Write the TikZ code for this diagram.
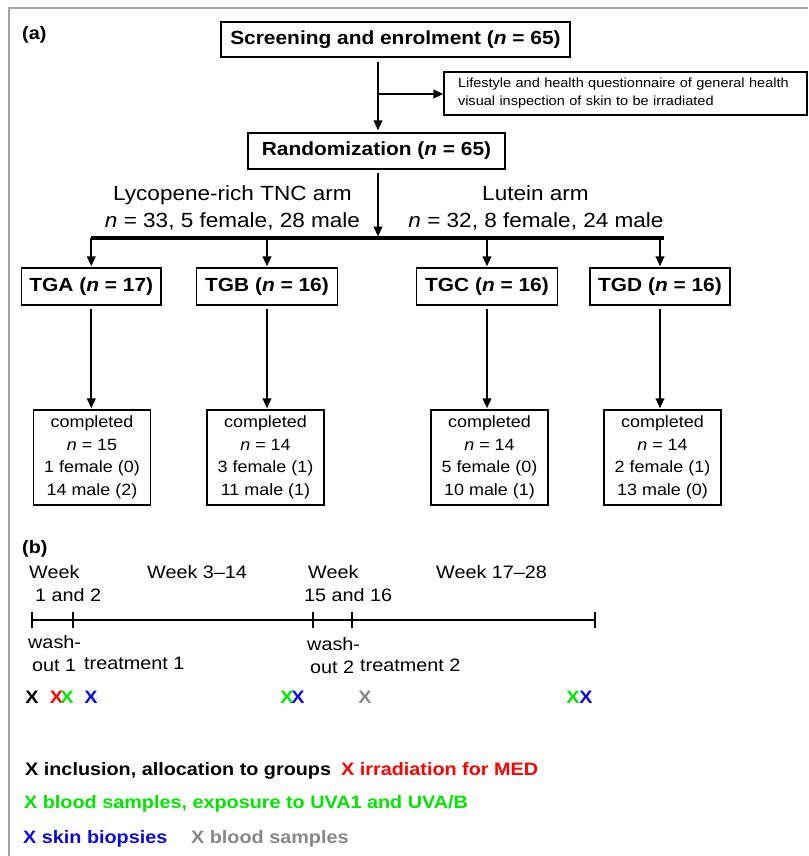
\documentclass[tikz,border=0pt]{standalone}
\usepackage{fontspec}
\setmainfont{Liberation Sans}[FakeStretch=1.1]
\usetikzlibrary{arrows.meta}
\definecolor{xred}{RGB}{255,0,0}
\definecolor{xgreen}{RGB}{0,230,0}
\definecolor{xblue}{RGB}{10,10,230}
\definecolor{xgray}{RGB}{135,135,135}
\definecolor{framegray}{RGB}{165,165,165}
\tikzset{
  bigbox/.style={draw, line width=1.3pt, inner sep=0pt, font=\fontsize{19}{23}\selectfont\bfseries},
  donebox/.style={draw, line width=1.3pt, inner sep=0pt, minimum width=117pt, minimum height=95pt, align=center, font=\fontsize{16.3}{22.5}\selectfont},
  arr/.style={line width=2.2pt, -{Triangle[length=10pt,width=8.5pt]}},
  armlbl/.style={inner sep=0pt, anchor=base, font=\fontsize{20.5}{25}\selectfont},
  tl/.style={inner sep=0pt, anchor=base west, font=\fontsize{18}{22}\selectfont},
  xm/.style={inner sep=0pt, anchor=base, font=\fontsize{18}{22}\selectfont\bfseries},
  leg/.style={inner sep=0pt, anchor=base west, font=\fontsize{18}{22}\selectfont\bfseries},
  panel/.style={inner sep=0pt, anchor=base west, font=\fontsize{18}{22}\selectfont\bfseries}
}
\begin{document}
\begin{tikzpicture}[x=1pt,y=-1pt]
\useasboundingbox (0,0) rectangle (808,856);
% frame
\draw[framegray, line width=2.5pt] (9,856) -- (9,8) -- (808,8);

% ---------- (a)
\node[panel] (pa) at (22,39.5) {(a)};
\node[bigbox, minimum width=349pt, minimum height=35pt] (scr) at (395.5,39.5) {Screening and enrolment (\textit{n} = 65)};
\node[draw, line width=1.3pt, inner xsep=14pt, inner ysep=0pt, text width=335pt, minimum height=43pt, align=left,
      font=\fontsize{13.2}{18}\selectfont] (q) at (625.5,93.5)
  {Lifestyle and health questionnaire of general health\\visual inspection of skin to be irradiated};
\node[bigbox, minimum width=257pt, minimum height=36pt] (rand) at (376.5,151) {Randomization (\textit{n} = 65)};

\coordinate (ax1) at (378,62);
\coordinate (brq) at (378,94);
\draw[arr, shorten >=2pt] (ax1) -- (ax1 |- rand.north);
\draw[arr] (brq) -- (brq -| q.west);

\node[armlbl] (lyc1) at (232.5,200) {Lycopene-rich TNC arm};
\node[armlbl] (lyc2) at (232.5,227) {\textit{n} = 33, 5 female, 28 male};
\node[armlbl] (lut1) at (535.5,200) {Lutein arm};
\node[armlbl] (lut2) at (536,227) {\textit{n} = 32, 8 female, 24 male};

\coordinate (bl) at (92,238);
\coordinate (br) at (663,238);
\coordinate (ax2) at (378,173);
\draw[arr, shorten >=1.5pt] (ax2) -- (ax2 |- bl);
\draw[line width=3.2pt] ([xshift=-1pt]bl) -- ([xshift=1pt]br);

\node[bigbox, minimum width=139.5pt, minimum height=37pt] (tga) at (91.3,286.5) {TGA (\textit{n} = 17)};
\node[bigbox, minimum width=141pt, minimum height=37pt] (tgb) at (267,286.5) {TGB (\textit{n} = 16)};
\node[bigbox, minimum width=141pt, minimum height=37pt] (tgc) at (487,286.5) {TGC (\textit{n} = 16)};
\node[bigbox, minimum width=140pt, minimum height=37pt] (tgd) at (660,286.5) {TGD (\textit{n} = 16)};

\foreach \g in {tga,tgb,tgc,tgd}{
  \draw[arr, shorten >=1pt] (\g.north |- bl) -- (\g.north);
}

\node[donebox] (da) at (92,457.5) {completed\\\textit{n} = 15\\1 female (0)\\14 male (2)};
\node[donebox] (db) at (265.5,457.5) {completed\\\textit{n} = 14\\3 female (1)\\11 male (1)};
\node[donebox] (dc) at (489.5,457.5) {completed\\\textit{n} = 14\\5 female (0)\\10 male (1)};
\node[donebox] (dd) at (662.5,457.5) {completed\\\textit{n} = 14\\2 female (1)\\13 male (0)};

\draw[arr, shorten <=3pt, shorten >=1pt] (tga.south) -- (tga.south |- da.north);
\draw[arr, shorten <=3pt, shorten >=1pt] (tgb.south) -- (tgb.south |- db.north);
\draw[arr, shorten <=3pt, shorten >=1pt] (tgc.south) -- (tgc.south |- dc.north);
\draw[arr, shorten <=3pt, shorten >=1pt] (tgd.south) -- (tgd.south |- dd.north);

% ---------- (b)
\node[panel] (pb) at (22,553.5) {(b)};
\node[tl] (w1a) at (29,578.5) {Week};
\node[tl] (w1b) at (35,601.5) {1 and 2};
\node[tl] (w2) at (147,578.5) {Week 3–14};
\node[tl] (w3a) at (308,578.5) {Week};
\node[tl] (w3b) at (304,601.5) {15 and 16};
\node[tl] (w4) at (436,578.5) {Week 17–28};

\coordinate (t0) at (32,620);
\coordinate (t1) at (73,620);
\coordinate (t2) at (313,620);
\coordinate (t3) at (352,620);
\coordinate (t4) at (595,620);
\draw[line width=1.6pt] (t0) -- (t4);
\foreach \t in {t0,t1,t2,t3,t4}{
  \draw[line width=1.6pt] ([yshift=-8pt]\t) -- ([yshift=8pt]\t);
}

\node[tl] (wo1a) at (28,648.5) {wash-};
\node[tl] (wo1b) at (32,671) {out 1};
\node[tl] (tr1) at (84,669.5) {treatment 1};
\node[tl] (wo2a) at (307,650.5) {wash-};
\node[tl] (wo2b) at (310,673) {out 2};
\node[tl] (tr2) at (360,671.5) {treatment 2};

\node[xm] (x1) at (32,703.5) {X};
\node[xm, text=xred] (x2) at (56.5,703.5) {X};
\node[xm, text=xgreen] (x3) at (67,703.5) {X};
\node[xm, text=xblue] (x4) at (91,703.5) {X};
\node[xm, text=xgreen] (x5) at (287,703.5) {X};
\node[xm, text=xblue] (x6) at (298,703.5) {X};
\node[xm, text=xgray] (x7) at (365,703.5) {X};
\node[xm, text=xgreen] (x8) at (573,703.5) {X};
\node[xm, text=xblue] (x9) at (586,703.5) {X};

% legend
\node[leg] (l1) at (25,775.5) {X inclusion, allocation to groups};
\node[leg, text=xred] (l2) at (341,775.5) {X irradiation for MED};
\node[leg, text=xgreen] (l3) at (24,808.5) {X blood samples, exposure to UVA1 and UVA/B};
\node[leg, text=xblue] (l4) at (23,843.5) {X skin biopsies};
\node[leg, text=xgray] (l5) at (191,843.5) {X blood samples};
\end{tikzpicture}
\end{document}
